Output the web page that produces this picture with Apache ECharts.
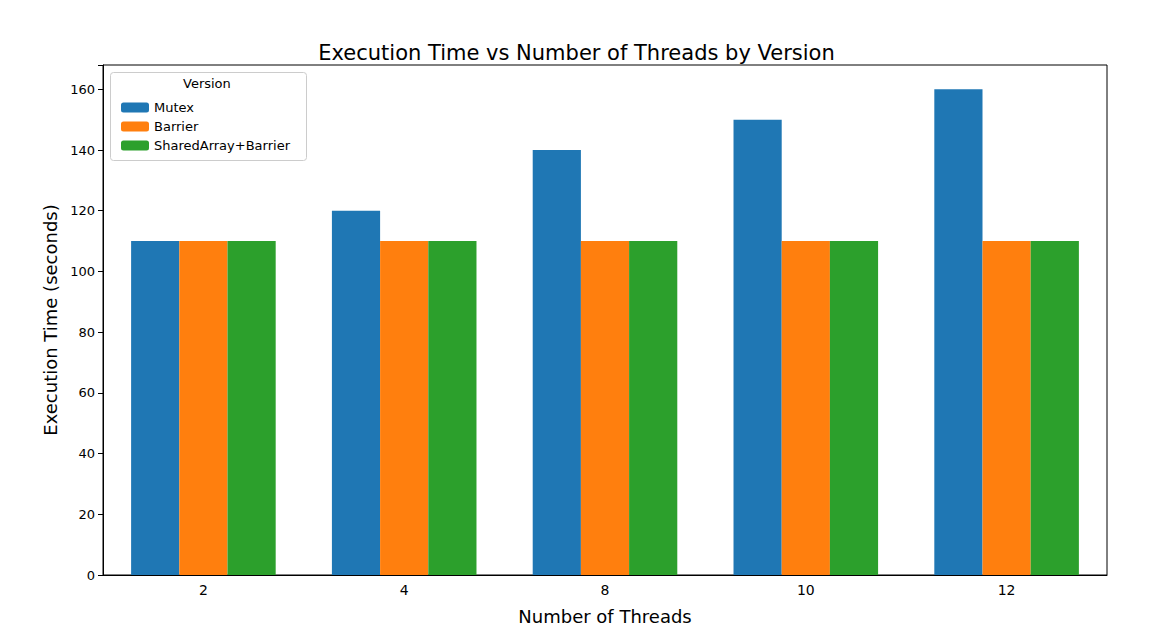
<!DOCTYPE html>
<html><head><meta charset="utf-8">
<script src="https://cdn.jsdelivr.net/npm/echarts@6/dist/echarts.min.js"></script>
<style>html,body{margin:0;padding:0;background:#fff}#c{width:1153px;height:631px}</style>
</head><body><div id="c"></div>
<script>
const threads = ['2', '4', '8', '10', '12'];
const mutex = [110, 120, 140, 150, 160];
const barrier = [110, 110, 110, 110, 110];
const sharedArray = [110, 110, 110, 110, 110];

const chart = echarts.init(document.getElementById('c'), null, { renderer: 'svg' });
const font = 'DejaVu Sans';
const bar = (name, data, color) => ({
  name, type: 'bar', data, barGap: 0, barCategoryGap: '28%',
  itemStyle: { color }
});
chart.setOption({
  animation: false,
  textStyle: { fontFamily: font },
  title: {
    text: 'Execution Time vs Number of Threads by Version',
    left: 'center', top: 37,
    textStyle: { fontFamily: font, fontSize: 21, fontWeight: 'normal', color: '#000' }
  },
  graphic: [
    { type: 'rect', left: 110, top: 72, shape: { width: 196, height: 88, r: 3 },
      style: { fill: '#fff', stroke: '#ccc', lineWidth: 1 }, z: 5 },
    { type: 'text', left: 183, top: 77, style: { text: 'Version', fontSize: 13, fontFamily: font, fill: '#000' }, z: 6 }
  ],
  legend: {
    orient: 'vertical', left: 116, top: 96, itemGap: 6,
    itemWidth: 28, itemHeight: 10, z: 10,
    textStyle: { fontSize: 13, fontFamily: font, color: '#000' },
    data: ['Mutex', 'Barrier', 'SharedArray+Barrier']
  },
  grid: { left: 103, right: 46, top: 65, bottom: 56, show: true, borderColor: '#000', borderWidth: 1 },
  xAxis: {
    type: 'category', data: threads,
    name: 'Number of Threads', nameLocation: 'middle', nameGap: 32,
    nameTextStyle: { fontSize: 18, color: '#000' },
    axisLine: { lineStyle: { color: '#000' } },
    axisTick: { alignWithLabel: true, length: 5, lineStyle: { color: '#000' } },
    axisLabel: { fontSize: 14, color: '#000', margin: 8 }
  },
  yAxis: {
    type: 'value', min: 0, max: 168, interval: 20,
    name: 'Execution Time (seconds)', nameLocation: 'middle', nameGap: 42,
    nameTextStyle: { fontSize: 18, color: '#000' },
    splitLine: { show: false },
    axisLine: { show: true, lineStyle: { color: '#000' } },
    axisTick: { show: true, length: 5, lineStyle: { color: '#000' } },
    axisLabel: { fontSize: 13, color: '#000', formatter: v => (v % 20 === 0 ? String(v) : '') }
  },
  series: [
    bar('Mutex', mutex, '#1f77b4'),
    bar('Barrier', barrier, '#ff7f0e'),
    bar('SharedArray+Barrier', sharedArray, '#2ca02c')
  ]
});
</script></body></html>
